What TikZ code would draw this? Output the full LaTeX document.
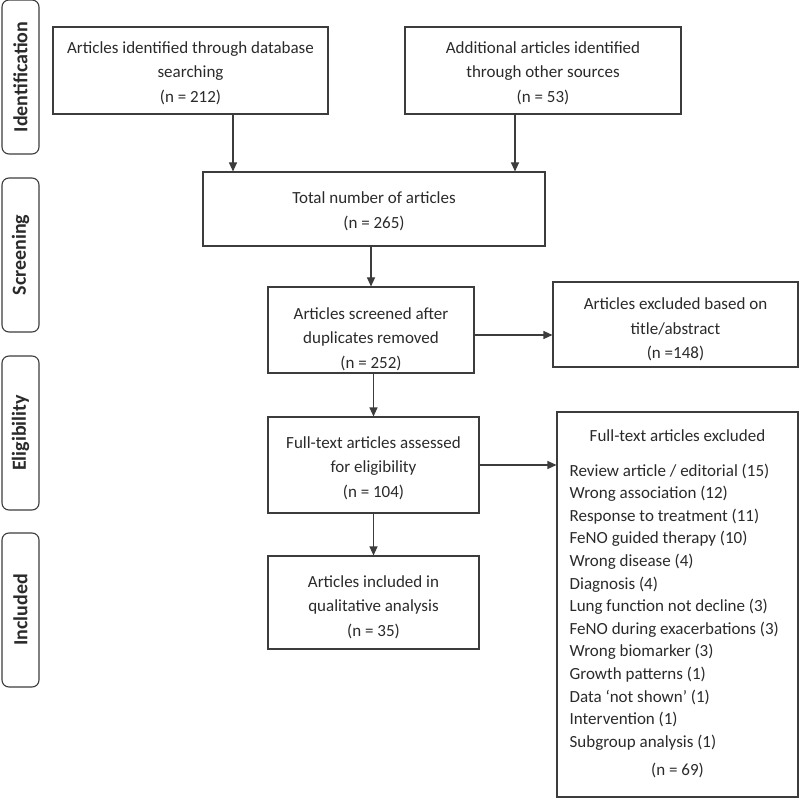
\documentclass[tikz,border=0pt]{standalone}
\usepackage{fontspec}
\setmainfont{Carlito}
\usetikzlibrary{arrows.meta}
\definecolor{ln}{HTML}{3C3C3C}
\definecolor{txt}{HTML}{2A2A2A}
\begin{document}
\begin{tikzpicture}[x=1pt,y=-1pt,
  every node/.style={text=txt},
  box/.style={draw=ln, line width=1.1pt, inner sep=0pt},
  btxt/.style={align=center, inner sep=0pt, font=\fontsize{17}{24.5}\selectfont},
  side/.style={draw=ln, line width=1.1pt, rounded corners=7pt, rotate=90, minimum width=154pt, minimum height=37pt, inner sep=0pt, font=\fontsize{20}{24}\selectfont\bfseries},
  lst/.style={align=left, inner sep=0pt, font=\fontsize{17}{22.6}\selectfont},
  plain/.style={inner sep=0pt, font=\fontsize{17}{22.6}\selectfont},
  arr/.style={draw=ln, line width=1.1pt, -{Triangle[length=9pt,width=8pt]}}]
\useasboundingbox (0,0) rectangle (800,799);

\node[side] (sid) at (20.5,77) {Identification};
\node[side] (ssc) at (20.5,255) {Screening};
\node[side] (sel) at (20.5,433) {Eligibility};
\node[side] (sin) at (20.5,610) {Included};

\node[box, minimum width=275pt, minimum height=87pt] (db) at (190.5,70.5) {};
\node[btxt] (dbt) at ([yshift=-2.5pt]db.center) {Articles identified through database\\searching\\(n = 212)};
\node[box, minimum width=276pt, minimum height=87pt] (add) at (543,70.5) {};
\node[btxt] (addt) at ([yshift=-2.5pt]add.center) {Additional articles identified\\through other sources\\(n = 53)};
\node[box, minimum width=342pt, minimum height=74pt] (tot) at (374,209) {};
\node[btxt] (tott) at ([yshift=-2.5pt]tot.center) {Total number of articles\\(n = 265)};
\node[box, minimum width=206pt, minimum height=86pt] (scr) at (371,330) {};
\node[btxt] (scrt) at ([yshift=-9pt]scr.center) {Articles screened after\\duplicates removed\\(n = 252)};
\node[box, minimum width=245pt, minimum height=85pt] (ex1) at (675.5,324.5) {};
\node[btxt] (ex1t) at ([yshift=-5pt]ex1.center) {Articles excluded based on\\title/abstract\\(n =148)};
\node[box, minimum width=211pt, minimum height=96pt] (ft) at (373.5,465) {};
\node[btxt] (ftt) at ([yshift=-3pt]ft.center) {Full-text articles assessed\\for eligibility\\(n = 104)};
\node[box, minimum width=211pt, minimum height=93pt] (inc) at (373.5,602.5) {};
\node[btxt] (inct) at ([yshift=-4.5pt]inc.center) {Articles included in\\qualitative analysis\\(n = 35)};
\node[box, minimum width=241pt, minimum height=385pt] (ex2) at (677.5,604.5) {};
\node[plain] (ex2h) at ([yshift=-24pt]ex2.north) {Full-text articles excluded};
\node[lst, anchor=north west] (ex2l) at ([xshift=13pt,yshift=-52pt]ex2.north west) {Review article / editorial (15)\\Wrong association (12)\\Response to treatment (11)\\FeNO guided therapy (10)\\Wrong disease (4)\\Diagnosis (4)\\Lung function not decline (3)\\FeNO during exacerbations (3)\\Wrong biomarker (3)\\Growth patterns (1)\\Data ‘not shown’ (1)\\Intervention (1)\\Subgroup analysis (1)};
\node[plain] (ex2n) at ([yshift=27pt]ex2.south) {(n = 69)};

\draw[arr] ([xshift=42.5pt]db.south) -- ([xshift=42.5pt]db.south |- tot.north);
\draw[arr] ([xshift=-28pt]add.south) -- ([xshift=-28pt]add.south |- tot.north);
\draw[arr] (tot.south -| scr.north) -- (scr.north);
\draw[arr] ([yshift=-5pt]scr.east) -- ([yshift=-5pt]scr.east -| ex1.west);
\draw[arr] (scr.south -| ft.north) -- (ft.north);
\draw[arr] (ft.east) -- (ft.east -| ex2.west);
\draw[arr] (ft.south) -- (inc.north);
\end{tikzpicture}
\end{document}
